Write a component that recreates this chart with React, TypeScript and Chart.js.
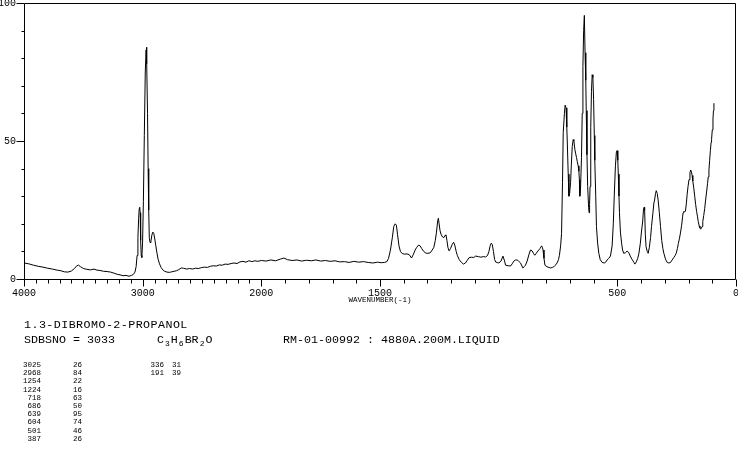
import React, { useEffect, useRef } from 'react';
import { Chart, registerables, LinearScale } from 'chart.js';

Chart.register(...registerables);

// ---------- data ----------
const X_MAX = 4000;
const X_BREAK = 2000;
const X_MIN = 0;
const xTickLabels = [4000, 3000, 2000, 1500, 500, 0];
const xMinorStep = 100;
const yTickLabels = [0, 50, 100];
const yMinorStep = 10;

// Raman shift (cm-1), intensity
const spectrum: [number, number][] = [
  [4000, 5.8], [3960, 5.5], [3920, 5.0], [3880, 4.6], [3840, 4.3], [3800, 3.9], [3760, 3.6], [3720, 3.2],
  [3690, 3.0], [3660, 2.6], [3630, 2.5], [3600, 2.9], [3575, 3.8], [3555, 4.8], [3540, 5.0], [3525, 4.5],
  [3500, 3.8], [3470, 3.5], [3440, 3.3], [3410, 3.6], [3385, 3.2], [3360, 3.1], [3330, 2.8], [3300, 2.7],
  [3270, 2.5], [3240, 2.1], [3215, 1.7], [3190, 1.5], [3165, 1.2], [3140, 1.3], [3115, 1.0], [3095, 1.3],
  [3080, 1.6], [3065, 2.5], [3055, 4.5], [3047, 8.5], [3040, 15], [3034, 22], [3029, 25.5], [3025, 26],
  [3021, 24], [3017, 14], [3012, 8.5], [3007, 7.8], [3001, 13], [2994, 28], [2986, 52], [2978, 75],
  [2971, 83], [2968, 84], [2964, 78], [2959, 60], [2954, 40], [2949, 25], [2944, 15], [2938, 13.2],
  [2930, 13.8], [2922, 16], [2914, 17], [2906, 16.5], [2898, 14.5], [2889, 12], [2880, 9.5], [2870, 7.2],
  [2858, 5.5], [2845, 4.2], [2830, 3.3], [2815, 2.8], [2795, 2.5], [2775, 2.4], [2755, 2.6], [2735, 2.8],
  [2715, 3.0], [2695, 3.4], [2675, 4.0], [2655, 3.9], [2630, 3.6], [2605, 3.8], [2580, 3.6], [2555, 3.9],
  [2530, 3.8], [2505, 4.1], [2480, 4.3], [2455, 4.2], [2430, 4.6], [2405, 4.8], [2380, 4.7], [2355, 5.1],
  [2330, 5.0], [2305, 5.4], [2280, 5.3], [2255, 5.6], [2230, 5.8], [2205, 5.6], [2180, 6.2], [2155, 6.4],
  [2130, 6.1], [2105, 6.6], [2080, 6.3], [2055, 6.6], [2030, 6.4], [2000, 6.7],
  [1980, 6.5], [1960, 6.9], [1940, 6.6], [1920, 7.2], [1905, 7.6], [1890, 7.0], [1870, 6.7], [1850, 6.9],
  [1830, 6.5], [1810, 6.8], [1790, 6.6], [1770, 6.9], [1750, 6.5], [1730, 6.7], [1710, 6.4], [1690, 6.6],
  [1670, 6.2], [1650, 6.3], [1630, 6.0], [1610, 6.4], [1590, 6.1], [1570, 6.3], [1550, 6.0], [1530, 5.8],
  [1510, 6.1], [1495, 5.9], [1482, 6.0], [1471, 6.3], [1464, 7.5], [1456, 10.5], [1448, 15], [1442, 19],
  [1436, 20], [1431, 19.5], [1426, 16], [1420, 12], [1414, 10], [1406, 9.2], [1396, 9], [1386, 9.1],
  [1377, 8.8], [1367, 7.6], [1359, 9], [1352, 10.5], [1345, 11.5], [1337, 12.3], [1331, 12], [1324, 11],
  [1316, 10], [1307, 9.4], [1298, 9.3], [1288, 9.5], [1280, 10.5], [1273, 11.5], [1267, 14], [1262, 17],
  [1257, 21], [1254, 22], [1251, 20], [1247, 17.5], [1242, 16], [1236, 15.2], [1231, 15], [1226, 15.8],
  [1222, 16], [1218, 14], [1214, 11.5], [1209, 10.2], [1203, 11], [1196, 12.5], [1190, 13.3], [1185, 12.3],
  [1179, 10], [1174, 8.5], [1166, 7], [1157, 6], [1148, 5.4], [1140, 5.8], [1132, 6.8], [1125, 7.7],
  [1115, 7.9], [1105, 7.8], [1097, 8.3], [1085, 8.1], [1075, 7.9], [1065, 8.1], [1055, 8], [1047, 8.5],
  [1041, 10], [1036, 12], [1031, 13], [1027, 12.5], [1022, 10], [1017, 7], [1012, 6.1], [1004, 5.9],
  [999, 5.8], [990, 6.5], [982, 8.3], [975, 6.5], [971, 5], [960, 4.8], [950, 4.7], [943, 5.5],
  [936, 6.5], [929, 6.9], [922, 6.9], [915, 6.4], [908, 5.8], [898, 4], [892, 4.5], [887, 5],
  [880, 6.5], [872, 9], [866, 10.5], [859, 10.2], [853, 9.2], [848, 8.6], [841, 9.4], [834, 10.2],
  [826, 11], [819, 12], [816, 11.5], [813, 10.5], [809, 7.5], [805, 5], [796, 4.4], [788, 4.2],
  [781, 4], [774, 4.2], [768, 4.4], [761, 5], [754, 5.8], [748, 7], [744, 8.6], [739, 12],
  [735, 16.5], [731, 35], [728, 53], [723, 60], [720, 63], [716, 62], [713, 55], [711, 50],
  [707, 38], [704, 30], [701, 31], [697, 35], [694, 41], [690, 48], [686, 50.5], [683, 50],
  [679, 47], [676, 45.6], [672, 44], [669, 42.6], [665, 41], [662, 39], [660, 36], [658, 30],
  [655, 33], [651, 44], [648, 60], [645, 77], [642, 90], [639, 95.5], [636, 82], [633, 72],
  [631, 61], [628, 45], [625, 33.5], [621, 26], [619, 24], [617, 27], [615, 33.5], [612, 55],
  [609, 68], [606, 74], [603, 73], [600, 65], [597, 52], [595, 43], [591, 30], [588, 19],
  [583, 13], [578, 9.3], [572, 7], [564, 6], [555, 5.8], [548, 6.2], [543, 6.9], [536, 7.5],
  [529, 8.3], [522, 12], [517, 20], [513, 30], [508, 41], [504, 46], [501, 46.5], [498, 43],
  [496, 38], [493, 30], [491, 24], [487, 17], [482, 13], [478, 10.5], [473, 9.3], [466, 9.5],
  [459, 10.1], [452, 9.6], [444, 8], [437, 7], [430, 6], [426, 5.4], [420, 6.2], [414, 7.5],
  [409, 9.3], [403, 13], [398, 17.4], [393, 21], [390, 25], [387, 26], [385, 25], [382, 16],
  [379, 11.7], [374, 10], [370, 9.3], [365, 11.5], [360, 15], [356, 19], [350, 24], [346, 27.5],
  [343, 28.6], [339, 31], [336, 32], [332, 31], [328, 28.6], [323, 24], [318, 19], [313, 14],
  [308, 11], [304, 9.3], [297, 7.2], [290, 6], [283, 5.8], [276, 6], [269, 6.9], [262, 7.8],
  [256, 8.6], [252, 9.3], [247, 11], [243, 12.8], [238, 14.8], [234, 16.7], [229, 19.5], [225, 22.5],
  [223, 24], [220, 24.5], [216, 24.3], [213, 24.6], [209, 27.5], [206, 30.5], [202, 33.6], [198, 36],
  [194, 38.5], [191, 39.5], [188, 39], [185, 37.5], [182, 35.5], [178, 33], [174, 30], [170, 27],
  [166, 24.5], [162, 22.5], [159, 20.8], [155, 19.2], [152, 18.5], [149, 18.1], [146, 18.3], [143, 19],
  [140, 20.8], [136, 23], [132, 25.5], [128, 28.6], [124, 31.5], [120, 34.5], [117, 37], [114, 39.5],
  [111, 43], [108, 46.5], [105, 49.5], [103, 50.5], [100, 54], [97, 58], [95, 61], [93, 63.7],
];

const compoundName = '1.3-DIBROMO-2-PROPANOL';
const sdbsNumber = 'SDBSNO = 3033';
const formulaParts: [string, boolean][] = [['C', false], ['3', true], ['H', false], ['6', true], ['BR', false], ['2', true], ['O', false]];
const measurementInfo = 'RM-01-00992 : 4880A.200M.LIQUID';
const axisTitle = 'WAVENUMBER(-1)';

const peakShifts = [3025, 2968, 1254, 1224, 718, 686, 639, 604, 501, 387, 336, 191];
const peakIntensities = [26, 84, 22, 16, 63, 50, 95, 74, 46, 26, 31, 39];
const PEAK_ROWS = 10;

// ---------- custom broken wavenumber scale ----------
class WavenumberScale extends LinearScale {
  static id = 'wavenumber';
  static defaults = {};
  getPixelForValue(value: number) {
    const u = value >= X_BREAK
      ? (X_MAX - value) / (X_MAX - X_BREAK)
      : 1 + ((X_BREAK - value) / (X_BREAK - X_MIN)) * 2;
    return this.left + (u / 3) * this.width;
  }
  getValueForPixel(pixel: number) {
    const u = ((pixel - this.left) / this.width) * 3;
    return u <= 1 ? X_MAX - u * (X_MAX - X_BREAK) : X_BREAK - ((u - 1) / 2) * (X_BREAK - X_MIN);
  }
  buildTicks() {
    return xTickLabels.map((v) => ({ value: v }));
  }
}
Chart.register(WavenumberScale as any);

const frameTicksPlugin = {
  id: 'frameTicks',
  afterDraw(chart: any) {
    const { ctx, chartArea } = chart;
    const { left, right, top, bottom } = chartArea;
    const xs = chart.scales.x;
    const ys = chart.scales.y;
    const L = Math.floor(left) + 0.5;
    const R = Math.floor(right) - 0.5;
    const T = Math.floor(top) + 0.5;
    const B = Math.floor(bottom) + 0.5;
    ctx.save();
    ctx.strokeStyle = '#000';
    ctx.lineWidth = 1;
    ctx.beginPath();
    ctx.moveTo(L, T); ctx.lineTo(R, T); ctx.lineTo(R, B); ctx.lineTo(L, B); ctx.closePath();
    for (let v = X_MIN; v <= X_MAX; v += xMinorStep) {
      const px = Math.round(xs.getPixelForValue(v)) + 0.5;
      const len = xTickLabels.includes(v) ? 7 : 4;
      ctx.moveTo(px, B); ctx.lineTo(px, B + len);
    }
    for (let v = 0; v <= 100; v += yMinorStep) {
      const py = Math.round(ys.getPixelForValue(v)) + 0.5;
      const len = yTickLabels.includes(v) ? 8 : 3;
      ctx.moveTo(L, py); ctx.lineTo(L - len, py);
    }
    ctx.stroke();
    ctx.restore();
  },
};

const MONO = '"Liberation Mono", "DejaVu Sans Mono", monospace';

export default function App() {
  const ref = useRef<HTMLCanvasElement | null>(null);

  useEffect(() => {
    if (!ref.current) return;
    const chart = new Chart(ref.current, {
      type: 'line',
      data: {
        datasets: [
          {
            data: spectrum.map(([x, y]) => ({ x, y })),
            borderColor: '#000',
            borderWidth: 1,
            pointRadius: 0,
            tension: 0,
            fill: false,
          },
        ],
      },
      options: {
        animation: false,
        responsive: false,
        devicePixelRatio: 1,
        layout: { padding: { top: 3, right: 2, left: 0, bottom: 0 } },
        plugins: { legend: { display: false }, tooltip: { enabled: false } },
        scales: {
          x: {
            type: 'wavenumber' as any,
            min: X_MIN,
            max: X_MAX,
            grid: { display: false, drawTicks: false },
            border: { display: false },
            ticks: {
              autoSkip: false,
              maxRotation: 0,
              minRotation: 0,
              padding: 8,
              color: '#000',
              font: { family: MONO, size: 10 },
              callback: (v: any) => String(v),
            },
            title: {
              display: true,
              text: axisTitle,
              color: '#000',
              font: { family: MONO, size: 7.5 },
              padding: { top: 0, bottom: 152.5 },
            },
            afterFit: (s: any) => {
              s.height = 178;
              s.paddingLeft = 0;
              s.paddingRight = 0;
            },
          },
          y: {
            type: 'linear',
            min: 0,
            max: 100,
            grid: { display: false, drawTicks: false },
            border: { display: false },
            ticks: {
              stepSize: 50,
              padding: 8,
              color: '#000',
              font: { family: MONO, size: 10 },
              callback: (v: any) => String(v),
            },
            afterFit: (s: any) => {
              s.width = 24;
              s.paddingTop = 0;
              s.paddingBottom = 0;
            },
          },
        },
      } as any,
      plugins: [frameTicksPlugin],
    });
    return () => chart.destroy();
  }, []);

  const big: React.CSSProperties = {
    position: 'absolute',
    fontFamily: MONO,
    fontSize: 11.67,
    lineHeight: '11.67px',
    color: '#000',
    whiteSpace: 'pre',
  };
  const small: React.CSSProperties = {
    position: 'absolute',
    fontFamily: MONO,
    fontSize: 7.5,
    lineHeight: '8px',
    color: '#000',
    whiteSpace: 'pre',
  };
  const listTop = 361;
  const rowH = 8.2;

  return (
    <div style={{ position: 'fixed', left: 0, top: 0, width: 738, height: 457, background: '#fff', overflow: 'hidden' }}>
      <canvas ref={ref} width={738} height={457} style={{ position: 'absolute', left: 0, top: 0 }} />
      <div style={{ ...big, left: 24, top: 320, letterSpacing: '0.45px' }}>{compoundName}</div>
      <div style={{ ...big, left: 24, top: 335 }}>{sdbsNumber}</div>
      <div style={{ ...big, left: 157, top: 335 }}>
        {formulaParts.map(([t, sub], i) =>
          sub ? (
            <span key={i} style={{ fontSize: 8, position: 'relative', top: 3, margin: '0 1px' }}>{t}</span>
          ) : (
            <span key={i}>{t}</span>
          )
        )}
      </div>
      <div style={{ ...big, left: 283, top: 335 }}>{measurementInfo}</div>
      {peakShifts.map((w, i) => {
        const col = i < PEAK_ROWS ? 0 : 1;
        const row = col === 0 ? i : i - PEAK_ROWS;
        const top = listTop + row * rowH;
        return (
          <React.Fragment key={i}>
            <div style={{ ...small, top, left: col === 0 ? 1 : 124, width: 40, textAlign: 'right' }}>{w}</div>
            <div style={{ ...small, top, left: col === 0 ? 73 : 172 }}>{peakIntensities[i]}</div>
          </React.Fragment>
        );
      })}
    </div>
  );
}
